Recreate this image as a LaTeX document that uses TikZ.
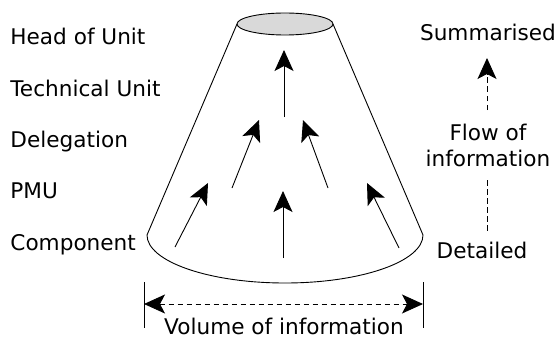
\documentclass[tikz,border=0pt]{standalone}
\usepackage{fontspec}
\setmainfont{DejaVu Sans}
\usetikzlibrary{arrows.meta}
\begin{document}
\begin{tikzpicture}[x=1pt,y=1pt,line width=0.9pt,
  lbl/.style={inner sep=0pt,font=\fontsize{21.6}{26}\selectfont},
  flow/.style={-{Stealth[length=21pt,width=19pt,inset=5pt]}},
  dashline/.style={dash pattern=on 5.5pt off 3.5pt}]
\useasboundingbox (0,0) rectangle (556,338);
% cone
\filldraw[fill=black!15] (285,314) ellipse[x radius=48pt,y radius=11pt];
\draw (237,314) -- (147,103) arc[start angle=180,end angle=360,x radius=138pt,y radius=48pt] -- (333,314);
% arrows inside
\coordinate (a1s) at (284,221); \coordinate (a1e) at (284,288);
\coordinate (a2s) at (232,150); \coordinate (a2e) at (259,218);
\coordinate (a3s) at (328,150); \coordinate (a3e) at (303,218);
\coordinate (a4s) at (175,91);  \coordinate (a4e) at (208,155);
\coordinate (a5s) at (283,80);  \coordinate (a5e) at (283,147);
\coordinate (a6s) at (399,90);  \coordinate (a6e) at (367,155);
\foreach \i in {1,...,6} {\draw[flow] (a\i s) -- (a\i e);}
% left labels
\node[lbl,anchor=base west] (head) at (10,293) {Head of Unit};
\node[lbl,anchor=base west] (tech) at (10,242) {Technical Unit};
\node[lbl,anchor=base west] (dele) at (10,191) {Delegation};
\node[lbl,anchor=base west] (pmu) at (10,140) {PMU};
\node[lbl,anchor=base west] (comp) at (10,88) {Component};
% right side
\node[lbl,anchor=base] (summ) at (488,297) {Summarised};
\node[lbl,anchor=base] (flowa) at (488,198) {Flow of};
\node[lbl,anchor=base] (flowb) at (488,172) {information};
\node[lbl,anchor=base] (det) at (482,80) {Detailed};
\coordinate (r1) at (487,228); \coordinate (r2) at (487,280);
\coordinate (r3) at (487,158); \coordinate (r4) at (487,105);
\draw[flow,dashline] (r1) -- (r2);
\draw[dashline] (r3) -- (r4);
% dimension
\coordinate (bl1) at (144,56); \coordinate (bl2) at (144,10);
\coordinate (br1) at (423,56); \coordinate (br2) at (423,10);
\draw (bl1) -- (bl2); \draw (br1) -- (br2);
\coordinate (dl) at (144,34); \coordinate (dr) at (423,34);
\draw[dashline,{Stealth[length=21pt,width=19pt,inset=5pt]}-{Stealth[length=21pt,width=19pt,inset=5pt]}] (dl) -- (dr);
\node[lbl,anchor=base] (vol) at (284,4) {Volume of information};
\end{tikzpicture}
\end{document}
